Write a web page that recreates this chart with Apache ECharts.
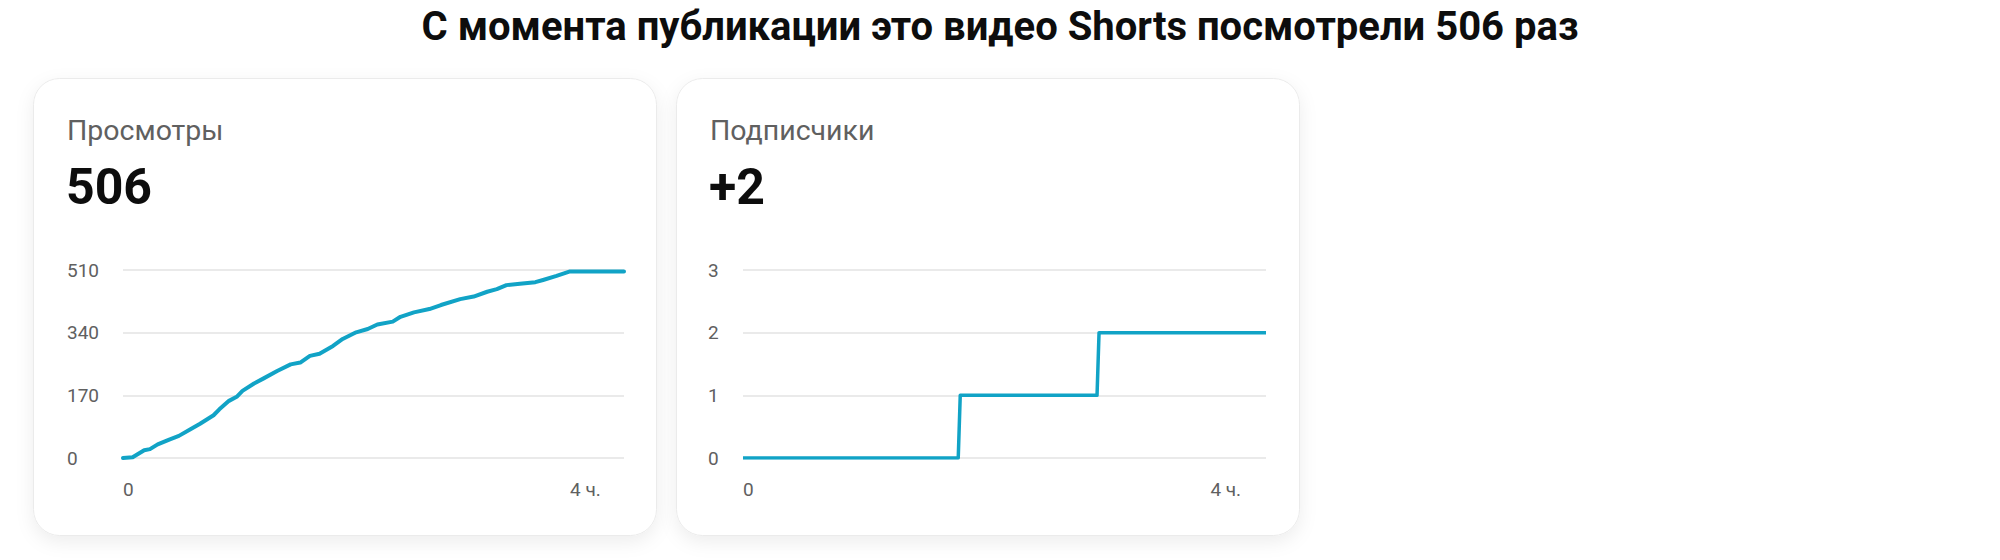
<!DOCTYPE html>
<html>
<head>
<meta charset="utf-8">
<script src="https://cdn.jsdelivr.net/npm/echarts@6/dist/echarts.min.js"></script>
<style>
html,body{margin:0;padding:0;background:#fff;}
#c{width:2000px;height:560px;}
</style>
</head>
<body>
<div id="c"></div>
<script>
// ---- data ----
const pageTitle = 'С момента публикации это видео Shorts посмотрели 506 раз';
const viewsLabel = 'Просмотры';
const viewsTotal = '506';
const subsLabel = 'Подписчики';
const subsTotal = '+2';

// minutes since publication
const viewsMinutes = [0, 5, 11, 14, 18, 24, 29, 35, 40, 47, 50, 55, 59, 62, 68, 73, 80, 87, 92, 97, 102, 109, 114, 121, 127, 132, 140, 144, 151, 159, 165, 175, 182, 189, 194, 199, 206, 214, 218, 225, 232, 254, 260];
const viewsValues  = [0, 2, 21, 24, 37, 50, 60, 78, 93, 116, 132, 155, 166, 182, 202, 216, 236, 254, 259, 277, 283, 304, 323, 341, 350, 362, 370, 383, 395, 404, 415, 431, 438, 451, 458, 469, 473, 477, 483, 494, 506, 506, 506];

const subsMinutes = [0, 107, 108, 176, 177, 260];
const subsValues  = [0, 0, 1, 1, 2, 2];

const viewsTicks = {min: 0, max: 510, interval: 170};
const subsTicks  = {min: 0, max: 3, interval: 1};
const xTicks = {min: 0, max: 260, interval: 240};
const xLabelFor = v => (v === 0 ? '0' : '4 ч.');

// ---- chart ----
const chart = echarts.init(document.getElementById('c'), null, {renderer: 'svg'});
const lineColor = '#11a3c6';
const labelColor = '#606060';
const FONT = 'Roboto, "Noto Sans", sans-serif';

function xAxisFor(gridIndex) {
  return {
    type: 'value', gridIndex,
    min: xTicks.min, max: xTicks.max, interval: xTicks.interval,
    axisLine: {show: false}, axisTick: {show: false}, splitLine: {show: false},
    axisLabel: {
      color: labelColor, fontSize: 19, fontFamily: FONT, margin: 22,
      showMaxLabel: false, alignMinLabel: 'left',
      formatter: xLabelFor
    }
  };
}
function yAxisFor(gridIndex, t, margin) {
  return {
    type: 'value', gridIndex, min: t.min, max: t.max, interval: t.interval,
    axisLine: {show: false}, axisTick: {show: false},
    splitLine: {lineStyle: {color: '#e3e3e3', width: 1.5}},
    axisLabel: {color: labelColor, fontSize: 19, fontFamily: FONT, align: 'left', margin}
  };
}
function card(x) {
  return {
    type: 'rect', left: x, top: 78, z: -10,
    shape: {width: 623, height: 457, r: 26},
    style: {fill: '#fff', stroke: '#ebebeb', lineWidth: 1,
      shadowBlur: 18, shadowOffsetY: 6, shadowColor: 'rgba(0,0,0,0.07)'}
  };
}
function head(text, left, top, size, weight, color) {
  return {text, left, top, padding: 0,
    textStyle: {fontFamily: FONT, fontSize: size, fontWeight: weight, color}};
}

chart.setOption({
  animation: false,
  backgroundColor: '#fff',
  graphic: [card(33), card(676)],
  title: [
    head(pageTitle, 'center', 6, 40, 'bold', '#0d0d0d'),
    head(viewsLabel, 67, 116, 28.5, 'normal', labelColor),
    head(viewsTotal, 66, 162, 50, 'bold', '#0d0d0d'),
    head(subsLabel, 710, 116, 28.5, 'normal', labelColor),
    head(subsTotal, 709, 162, 50, 'bold', '#0d0d0d')
  ],
  grid: [
    {left: 123, right: 1376, top: 270, bottom: 102},
    {left: 743, right: 734, top: 270, bottom: 102}
  ],
  xAxis: [xAxisFor(0), xAxisFor(1)],
  yAxis: [yAxisFor(0, viewsTicks, 56), yAxisFor(1, subsTicks, 35)],
  series: [
    {type: 'line', xAxisIndex: 0, yAxisIndex: 0, showSymbol: false,
      data: viewsMinutes.map((m, i) => [m, viewsValues[i]]),
      lineStyle: {color: lineColor, width: 4, join: 'round', cap: 'round'}},
    {type: 'line', xAxisIndex: 1, yAxisIndex: 1, showSymbol: false,
      data: subsMinutes.map((m, i) => [m, subsValues[i]]),
      lineStyle: {color: lineColor, width: 3.5, join: 'round'}}
  ]
});
</script>
</body>
</html>
